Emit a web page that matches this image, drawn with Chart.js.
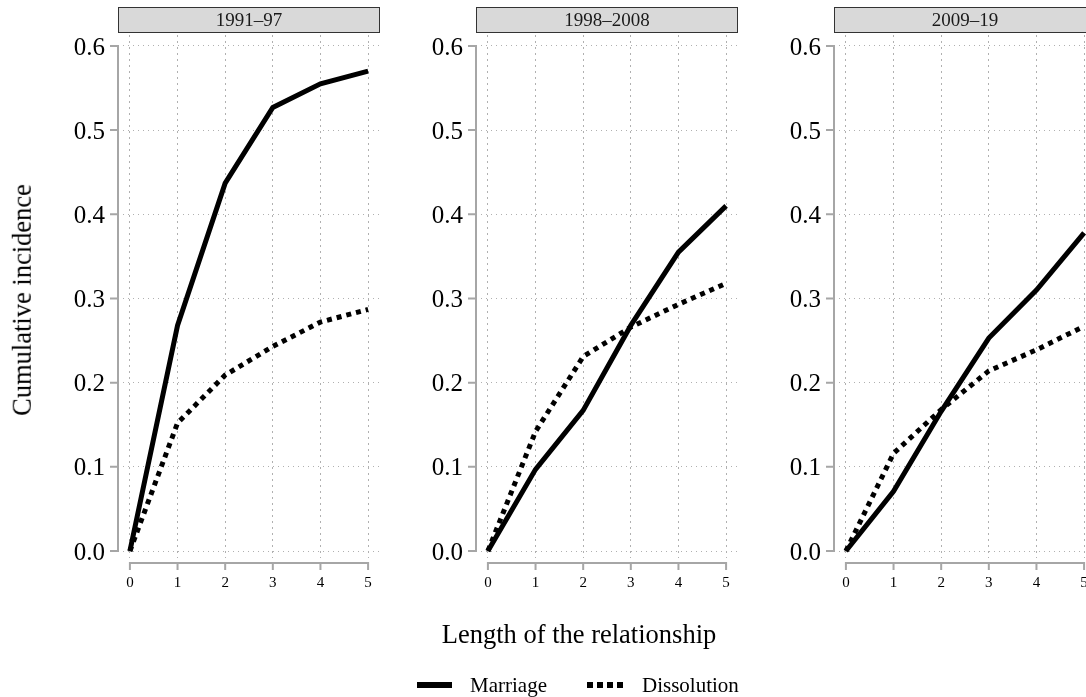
<!DOCTYPE html>
<html><head><meta charset="utf-8">
<script src="https://cdn.jsdelivr.net/npm/chart.js@4.4.0/dist/chart.umd.min.js"></script>
<style>
html,body{margin:0;padding:0;background:#fff;overflow:hidden;}
#wrap{position:relative;width:1086px;height:697px;overflow:hidden;font-family:'Liberation Serif','Times New Roman',serif;color:#000;}
canvas{position:absolute;top:0;}
.t{position:absolute;white-space:nowrap;line-height:1;}
.sq{position:absolute;top:682px;width:6px;height:6px;background:#000;}
</style></head><body>
<div id="wrap">
<canvas id="c0" width="380" height="697" style="left:0px"></canvas>
<canvas id="c1" width="380" height="697" style="left:358px"></canvas>
<canvas id="c2" width="380" height="697" style="left:716px"></canvas>
<div class="t" style="left:22px;top:300px;font-size:26.5px;transform:translate(-50%,-50%) rotate(-90deg);">Cumulative incidence</div>
<div class="t" style="left:579px;top:634px;font-size:26.5px;transform:translate(-50%,-50%);">Length of the relationship</div>
<div style="position:absolute;left:417px;top:682px;width:35px;height:6px;background:#000;"></div>
<div class="t" style="left:470px;top:685px;font-size:21px;transform:translateY(-50%);">Marriage</div>
<div class="sq" style="left:587px"></div><div class="sq" style="left:597px"></div><div class="sq" style="left:607px"></div><div class="sq" style="left:617px"></div>
<div class="t" style="left:642px;top:685px;font-size:21px;transform:translateY(-50%);">Dissolution</div>
</div>
<script>
const periods = ['1991\u201397', '1998\u20132008', '2009\u201319'];
const years = [0, 1, 2, 3, 4, 5];
const marriage9197 = [0, 0.268, 0.437, 0.527, 0.555, 0.570];
const dissolution9197 = [0, 0.152, 0.209, 0.243, 0.272, 0.287];
const marriage9808 = [0, 0.097, 0.167, 0.268, 0.355, 0.410];
const dissolution9808 = [0, 0.142, 0.231, 0.266, 0.293, 0.318];
const marriage0919 = [0, 0.071, 0.166, 0.253, 0.310, 0.378];
const dissolution0919 = [0, 0.116, 0.168, 0.214, 0.239, 0.267];
const xTicks = [0, 1, 2, 3, 4, 5];
const xTickLabels = ['0', '1', '2', '3', '4', '5'];
const yTicks = [0, 0.1, 0.2, 0.3, 0.4, 0.5, 0.6];
const yTickLabels = ['0.0', '0.1', '0.2', '0.3', '0.4', '0.5', '0.6'];

const FONT = '"Liberation Serif", "Times New Roman", serif';

const panelDeco = {
  id: 'panelDeco',
  afterDraw(chart, args, opts) {
    const ctx = chart.ctx, a = chart.chartArea, xs = chart.scales.x, ys = chart.scales.y;
    ctx.save();
    // strip
    ctx.fillStyle = '#d9d9d9';
    ctx.fillRect(a.left, 7, a.right - a.left, 26);
    ctx.strokeStyle = '#333333'; ctx.lineWidth = 1;
    ctx.strokeRect(a.left + 0.5, 7.5, a.right - a.left - 1, 25);
    ctx.fillStyle = '#1a1a1a';
    ctx.font = '19px ' + FONT;
    ctx.textAlign = 'center'; ctx.textBaseline = 'middle';
    ctx.fillText(opts.title, (a.left + a.right) / 2, 21);
    // axes
    ctx.strokeStyle = '#a6a6a6'; ctx.lineWidth = 2;
    ctx.beginPath();
    const yb = ys.getPixelForValue(yTicks[0]), yt = ys.getPixelForValue(yTicks[yTicks.length - 1]);
    ctx.moveTo(a.left, yb + 1); ctx.lineTo(a.left, yt - 1);
    yTicks.forEach(v => { const p = ys.getPixelForValue(v); ctx.moveTo(a.left, p); ctx.lineTo(a.left - 8, p); });
    const axY = 563;
    const xl = xs.getPixelForValue(xTicks[0]), xr = xs.getPixelForValue(xTicks[xTicks.length - 1]);
    ctx.moveTo(xl - 1, axY); ctx.lineTo(xr + 1, axY);
    xTicks.forEach(v => { const p = xs.getPixelForValue(v); ctx.moveTo(p, axY); ctx.lineTo(p, axY + 7); });
    ctx.stroke();
    // tick labels
    ctx.fillStyle = '#000';
    ctx.font = '25px ' + FONT;
    ctx.textAlign = 'right'; ctx.textBaseline = 'middle';
    yTicks.forEach((v, i) => ctx.fillText(yTickLabels[i], a.left - 13, ys.getPixelForValue(v) + 2));
    ctx.font = '15px ' + FONT;
    ctx.textAlign = 'center';
    xTicks.forEach((v, i) => ctx.fillText(xTickLabels[i], xs.getPixelForValue(v), 583));
    ctx.restore();
  }
};

function makeChart(id, title, m, d) {
  return new Chart(document.getElementById(id), {
    type: 'line',
    data: {
      datasets: [
        { label: 'Marriage', data: years.map((x, i) => ({ x: x, y: m[i] })), borderColor: '#000', borderWidth: 5, pointRadius: 0, tension: 0, fill: false },
        { label: 'Dissolution', data: years.map((x, i) => ({ x: x, y: d[i] })), borderColor: '#000', borderWidth: 5, borderDash: [5, 5], pointRadius: 0, tension: 0, fill: false }
      ]
    },
    options: {
      responsive: false, animation: false, devicePixelRatio: 1,
      layout: { padding: { top: 35, right: 0, bottom: 0, left: 0 } },
      plugins: { legend: { display: false }, tooltip: { enabled: false }, panelDeco: { title: title } },
      scales: {
        x: {
          type: 'linear', min: -0.25, max: 5.25,
          afterBuildTicks: s => { s.ticks = xTicks.map(v => ({ value: v })); },
          afterFit: s => { s.height = 139; },
          ticks: { display: false },
          grid: { drawTicks: false, color: '#b0b0b0', lineWidth: 1 },
          border: { display: false, dash: [2, 4] }
        },
        y: {
          type: 'linear', min: -0.0083, max: 0.613,
          afterBuildTicks: s => { s.ticks = yTicks.map(v => ({ value: v })); },
          afterFit: s => { s.width = 118; },
          ticks: { display: false },
          grid: { drawTicks: false, color: '#b0b0b0', lineWidth: 1 },
          border: { display: false, dash: [1, 4] }
        }
      }
    },
    plugins: [panelDeco]
  });
}

makeChart('c0', periods[0], marriage9197, dissolution9197);
makeChart('c1', periods[1], marriage9808, dissolution9808);
makeChart('c2', periods[2], marriage0919, dissolution0919);
</script>
</body></html>
